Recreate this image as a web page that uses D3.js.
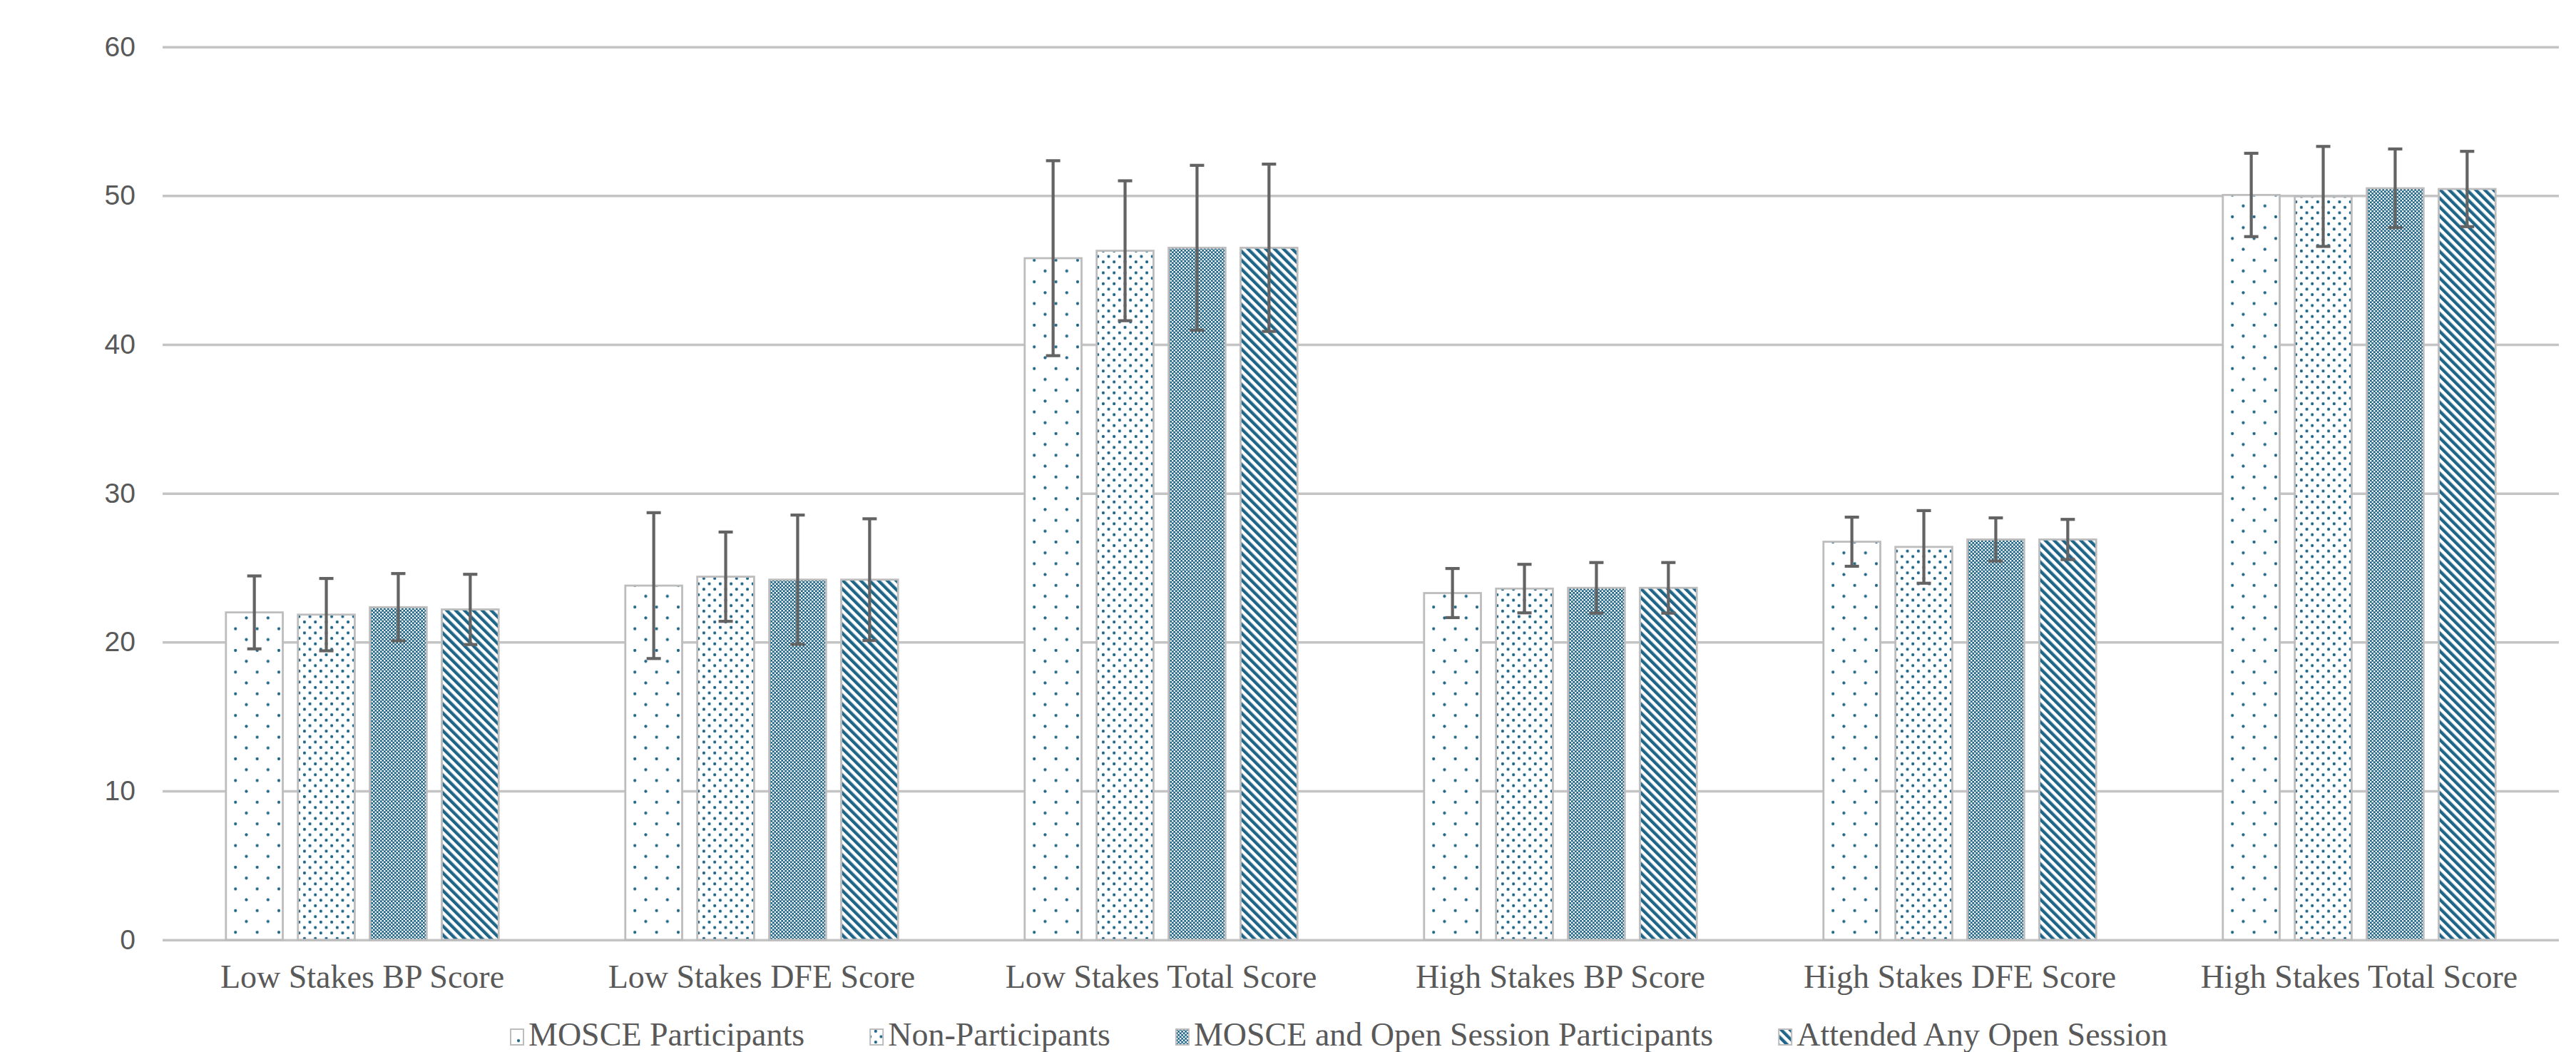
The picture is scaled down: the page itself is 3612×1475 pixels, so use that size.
<!DOCTYPE html>
<html>
<head>
<meta charset="utf-8">
<script src="https://cdn.jsdelivr.net/npm/d3@7"></script>
<style>
  body { margin: 0; background: #fff; }
  svg { display: block; }
</style>
</head>
<body>
<div id="chart"></div>
<script>
var categories = ['Low Stakes BP Score', 'Low Stakes DFE Score', 'Low Stakes Total Score',
  'High Stakes BP Score', 'High Stakes DFE Score', 'High Stakes Total Score'];
var series = ['MOSCE Participants', 'Non-Participants',
  'MOSCE and Open Session Participants', 'Attended Any Open Session'];

// bar heights, one array per series
var mosce = [22.0, 23.8, 45.8, 23.3, 26.75, 50.05];
var nonPart = [21.85, 24.4, 46.3, 23.6, 26.4, 49.95];
var mosceOpen = [22.35, 24.2, 46.5, 23.65, 26.9, 50.5];
var attended = [22.2, 24.2, 46.5, 23.65, 26.9, 50.45];

// error bar half lengths
var mosceErr = [2.45, 4.9, 6.55, 1.65, 1.65, 2.8];
var nonPartErr = [2.43, 3.0, 4.7, 1.63, 2.44, 3.36];
var mosceOpenErr = [2.26, 4.34, 5.54, 1.7, 1.45, 2.64];
var attendedErr = [2.36, 4.09, 5.62, 1.7, 1.35, 2.53];

var yTicks = [0, 10, 20, 30, 40, 50, 60];

var values = [mosce, nonPart, mosceOpen, attended];
var errors = [mosceErr, nonPartErr, mosceOpenErr, attendedErr];

var W = 3612, H = 1475;
var plotLeft = 228, plotRight = 3588, plotTop = 65.7, plotBottom = 1317.7;
var blue = '#1f6588';
var grid = '#c4c4c4';
var textCol = '#595959';

var svg = d3.select('#chart').append('svg')
    .attr('width', W).attr('height', H);

var defs = svg.append('defs');

// pattern 1: sparse staggered dots
var p1 = defs.append('pattern').attr('id', 'pat0')
    .attr('patternUnits', 'userSpaceOnUse').attr('width', 30.4).attr('height', 30.4)
    .attr('x', 11).attr('y', 0);
p1.append('rect').attr('width', 30.4).attr('height', 30.4).attr('fill', '#fff');
[[0, 0], [30.4, 0], [0, 30.4], [30.4, 30.4], [15.2, 15.2]].forEach(function (c) {
  p1.append('circle').attr('cx', c[0]).attr('cy', c[1]).attr('r', 2.1).attr('fill', blue);
});

// pattern 2: denser staggered dots
var p2 = defs.append('pattern').attr('id', 'pat1')
    .attr('patternUnits', 'userSpaceOnUse').attr('width', 15.3).attr('height', 15.3);
p2.append('rect').attr('width', 15.3).attr('height', 15.3).attr('fill', '#fff');
[[0, 0], [15.3, 0], [0, 15.3], [15.3, 15.3], [7.65, 7.65]].forEach(function (c) {
  p2.append('circle').attr('cx', c[0]).attr('cy', c[1]).attr('r', 2.1).attr('fill', blue);
});

// pattern 3: very fine dot grid
var p3 = defs.append('pattern').attr('id', 'pat2')
    .attr('patternUnits', 'userSpaceOnUse').attr('width', 5).attr('height', 5);
p3.append('rect').attr('width', 5).attr('height', 5).attr('fill', blue);
p3.append('circle').attr('cx', 1.25).attr('cy', 1.25).attr('r', 1.3).attr('fill', '#fff');
p3.append('circle').attr('cx', 3.75).attr('cy', 3.75).attr('r', 1.3).attr('fill', '#fff');

// pattern 4: wide downward diagonal stripes
var p4 = defs.append('pattern').attr('id', 'pat3')
    .attr('patternUnits', 'userSpaceOnUse').attr('width', 8.8).attr('height', 8.8)
    .attr('patternTransform', 'rotate(-45)');
p4.append('rect').attr('width', 8.8).attr('height', 8.8).attr('fill', '#fff');
p4.append('rect').attr('width', 4.4).attr('height', 8.8).attr('fill', blue);

var y = d3.scaleLinear().domain([0, 60]).range([plotBottom, plotTop]);
var x0 = d3.scaleBand().domain(categories).range([plotLeft, plotRight]);
var x1 = d3.scaleBand().domain(series).range([0, x0.bandwidth()])
    .paddingInner(0.21).paddingOuter(0.88);

// gridlines and y labels
var yAxis = svg.append('g')
    .attr('transform', 'translate(' + plotLeft + ',0)')
    .call(d3.axisLeft(y).tickValues(yTicks).tickSize(-(plotRight - plotLeft)).tickPadding(38));
yAxis.select('.domain').remove();
yAxis.selectAll('line').attr('stroke', grid).attr('stroke-width', 3.5);
yAxis.selectAll('text')
    .attr('fill', textCol)
    .style('font-family', '"Liberation Sans", Arial, sans-serif')
    .style('font-size', '39px');

// bars
var groups = svg.append('g').selectAll('g')
    .data(categories)
    .enter().append('g')
    .attr('transform', function (d) { return 'translate(' + x0(d) + ',0)'; });

groups.selectAll('rect')
    .data(function (d, i) {
      return series.map(function (s, j) {
        return { s: s, j: j, v: values[j][i], e: errors[j][i] };
      });
    })
    .enter().append('rect')
    .attr('x', function (d) { return x1(d.s); })
    .attr('y', function (d) { return y(d.v); })
    .attr('width', x1.bandwidth())
    .attr('height', function (d) { return y(0) - y(d.v); })
    .attr('fill', function (d) { return 'url(#pat' + d.j + ')'; })
    .attr('stroke', '#bdbdbd')
    .attr('stroke-width', 2.8);

// error bars
var errG = groups.selectAll('g.err')
    .data(function (d, i) {
      return series.map(function (s, j) {
        return { s: s, v: values[j][i], e: errors[j][i] };
      });
    })
    .enter().append('g').attr('class', 'err')
    .attr('stroke', '#636363').attr('stroke-width', 4.2);

errG.append('line')
    .attr('x1', function (d) { return x1(d.s) + x1.bandwidth() / 2; })
    .attr('x2', function (d) { return x1(d.s) + x1.bandwidth() / 2; })
    .attr('y1', function (d) { return y(d.v + d.e); })
    .attr('y2', function (d) { return y(d.v - d.e); });
[1, -1].forEach(function (sign) {
  errG.append('line')
      .attr('x1', function (d) { return x1(d.s) + x1.bandwidth() / 2 - 10; })
      .attr('x2', function (d) { return x1(d.s) + x1.bandwidth() / 2 + 10; })
      .attr('y1', function (d) { return y(d.v + sign * d.e); })
      .attr('y2', function (d) { return y(d.v + sign * d.e); });
});

// category labels
svg.append('g').selectAll('text')
    .data(categories)
    .enter().append('text')
    .attr('x', function (d) { return x0(d) + x0.bandwidth() / 2; })
    .attr('y', 1385)
    .attr('text-anchor', 'middle')
    .attr('fill', textCol)
    .style('font-family', '"Liberation Serif", "Times New Roman", serif')
    .style('font-size', '46px')
    .text(function (d) { return d; });

// legend
var legend = svg.append('g');
var items = legend.selectAll('g')
    .data(series)
    .enter().append('g');
items.append('rect')
    .attr('width', 18).attr('height', 22)
    .attr('y', 1443)
    .attr('fill', function (d, i) { return 'url(#pat' + i + ')'; })
    .attr('stroke', '#bdbdbd').attr('stroke-width', 2);
items.append('text')
    .attr('x', 25)
    .attr('y', 1466)
    .attr('fill', textCol)
    .style('font-family', '"Liberation Serif", "Times New Roman", serif')
    .style('font-size', '46px')
    .text(function (d) { return d; });

var pos = 716;
items.each(function () {
  var g = d3.select(this);
  g.attr('transform', 'translate(' + pos + ',0)');
  pos += 25 + g.select('text').node().getComputedTextLength() + 92;
});
</script>
</body>
</html>
